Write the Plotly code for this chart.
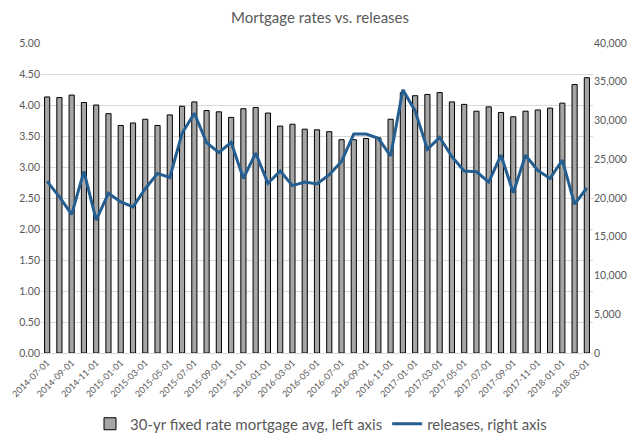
import pandas as pd
import plotly.graph_objects as go

months = [d.strftime("%Y-%m-%d") for d in pd.date_range("2014-07-01", "2018-03-01", freq="MS")]

mortgage_rate = [4.13, 4.12, 4.16, 4.04, 4.00, 3.86, 3.67, 3.71, 3.77, 3.67, 3.84, 3.98,
                 4.05, 3.91, 3.89, 3.80, 3.94, 3.96, 3.87, 3.66, 3.69, 3.61, 3.60, 3.57,
                 3.44, 3.44, 3.46, 3.47, 3.77, 4.20, 4.15, 4.17, 4.20, 4.05, 4.01, 3.90,
                 3.97, 3.88, 3.81, 3.90, 3.92, 3.95, 4.03, 4.33, 4.44]

releases = [22150, 20150, 17880, 23430, 17130, 20620, 19500, 18850, 21200, 23170, 22650, 28350,
            30940, 27140, 25850, 27180, 22520, 25800, 21880, 23490, 21600, 22050, 21810, 23000,
            24720, 28260, 28260, 27700, 25420, 33960, 31240, 26280, 27830, 25330, 23490, 23380,
            22050, 25540, 20660, 25520, 23560, 22520, 24900, 19200, 21290]

tick_labels = months[::2]

font_family = "Lato, 'Open Sans', sans-serif"
gray_text = "#595959"

# the page body has an 8px default margin, so the figure is sized to fit inside the window
W, H = 632, 437
OFF = 8

fig = go.Figure()
fig.add_trace(go.Bar(
    x=months, y=mortgage_rate,
    name="30-yr fixed rate mortgage avg, left axis",
    marker=dict(color="#a5a5a5", line=dict(color="#000000", width=1)),
    yaxis="y",
))
fig.add_trace(go.Scatter(
    x=months, y=releases,
    name="releases, right axis",
    mode="lines",
    line=dict(color="#255e91", width=3),
    yaxis="y2",
))

fig.update_layout(
    width=W, height=H,
    paper_bgcolor="white", plot_bgcolor="white",
    margin=dict(l=41 - OFF, r=47, t=43 - OFF, b=92, autoexpand=False),
    bargap=0.58,
    title=dict(text="Mortgage rates vs. releases", x=(320 - OFF) / W, xanchor="center",
               y=1 - (18 - OFF) / H, yanchor="middle", yref="container",
               font=dict(family=font_family, size=15, color=gray_text)),
    font=dict(family=font_family, color=gray_text),
    xaxis=dict(
        type="category", automargin=False,
        tickmode="array", tickvals=tick_labels, ticktext=tick_labels,
        tickangle=-45, tickfont=dict(size=9, color=gray_text),
        showgrid=False, showline=True, linecolor="#d9d9d9", linewidth=1,
        ticks="",
    ),
    yaxis=dict(
        range=[0, 5], dtick=0.5, tickformat=".2f", automargin=False,
        tickfont=dict(size=10.5, color=gray_text),
        showgrid=True, gridcolor="#d9d9d9", gridwidth=1,
        zeroline=False, showline=False, ticks="",
    ),
    yaxis2=dict(
        range=[0, 40000], dtick=5000, tickformat=",d", automargin=False,
        overlaying="y", side="right",
        tickfont=dict(size=10.5, color=gray_text),
        showgrid=False, zeroline=False, showline=False, ticks="",
    ),
    legend=dict(
        orientation="h", xref="container", x=(321 - OFF) / W, xanchor="center",
        yref="container", y=1 - (424 - OFF) / H, yanchor="middle",
        font=dict(size=15, color=gray_text),
    ),
)

fig.write_html("out.html")
